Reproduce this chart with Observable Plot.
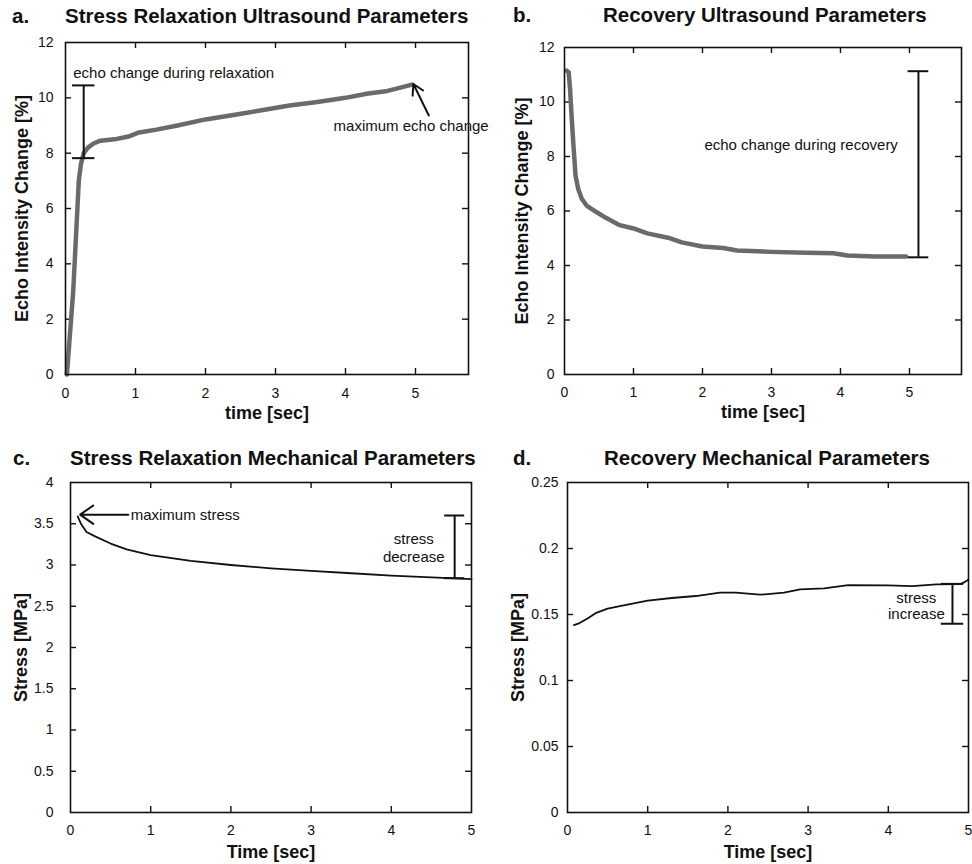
<!DOCTYPE html>
<html><head><meta charset="utf-8">
<script src="https://cdn.jsdelivr.net/npm/d3@7"></script>
<script src="https://cdn.jsdelivr.net/npm/@observablehq/plot@0.6"></script>
<style>
body{margin:0;background:#fff;font-family:"Liberation Sans",Arial,sans-serif;}
#wrap{position:relative;width:972px;height:864px;overflow:hidden;background:#fff}
.panel{position:absolute}
.ttl{position:absolute;font-weight:bold;font-size:20.5px;line-height:1;white-space:nowrap;color:#111}
</style></head><body><div id="wrap"></div><script>
// ---- data ----
const aTime = [0.02,0.05,0.08,0.11,0.13,0.15,0.17,0.19,0.22,0.26,0.32,0.4,0.5,0.7,0.9,1.05,1.3,1.6,2.0,2.4,2.8,3.2,3.6,4.0,4.3,4.6,4.8,4.95];
const aEcho = [0,1,2,3,4,5,6,7,7.6,8.0,8.2,8.35,8.45,8.5,8.6,8.75,8.85,9.0,9.22,9.38,9.55,9.72,9.85,10.0,10.15,10.25,10.38,10.48];
const bTime = [0.03,0.06,0.08,0.1,0.13,0.16,0.2,0.25,0.32,0.45,0.6,0.8,1.0,1.2,1.5,1.7,2.0,2.3,2.5,3.0,3.5,3.9,4.1,4.5,4.95];
const bEcho = [11.15,11.1,10.5,9.6,8.4,7.3,6.8,6.45,6.2,5.98,5.75,5.48,5.36,5.18,5.02,4.85,4.7,4.64,4.55,4.5,4.47,4.45,4.37,4.33,4.33];
const cTime = [0.09,0.13,0.2,0.3,0.5,0.7,1.0,1.5,2.0,2.5,3.0,3.5,4.0,4.5,5.0];
const cStress = [3.59,3.5,3.4,3.35,3.26,3.19,3.12,3.05,3.0,2.96,2.93,2.9,2.87,2.85,2.83];
const dTime = [0.08,0.15,0.25,0.35,0.5,0.7,1.0,1.3,1.6,1.9,2.1,2.4,2.7,2.9,3.2,3.5,4.0,4.3,4.6,4.9,4.95,5.0];
const dStress = [0.142,0.1435,0.147,0.151,0.1545,0.157,0.1605,0.1625,0.164,0.1665,0.1665,0.165,0.1665,0.169,0.1698,0.1722,0.172,0.1715,0.1728,0.173,0.1745,0.1765];

const ultraTicksX = [0,1,2,3,4,5];
const ultraTicksY = [0,2,4,6,8,10,12];
const mechTicksX = [0,1,2,3,4,5];
const relaxTicksY = [0,0.5,1,1.5,2,2.5,3,3.5,4];
const recovTicksY = [0,0.05,0.1,0.15,0.2,0.25];

// annotations: [x, low, high, capHalf]
const aBracket = [0.26, 7.82, 10.45, 0.16];
const bBracket = [5.13, 4.3, 11.13, 0.15];
const cBracket = [4.79, 2.84, 3.6, 0.125];
const dBracket = [4.8, 0.143, 0.1732, 0.14];
const aArrow = [5.19, 9.36, 4.97, 10.5];
const cArrow = [0.72, 3.61, 0.12, 3.61];
const aNotes = [{x:0.11, y:10.93, t:"echo change during relaxation", a:"start"},{x:3.83, y:9.0, t:"maximum echo change", a:"start"}];
const bNotes = [{x:3.43, y:8.44, t:"echo change during recovery", a:"middle"}];
const cNotes = [{x:0.75, y:3.61, t:"maximum stress", a:"start"},{x:4.28, y:3.21, t:"stress\ndecrease", a:"middle"}];
const dNotes = [{x:4.35, y:0.1568, t:"stress\nincrease", a:"middle"}];

const titles = [
  {lab:"a.", lx:12, x:65, top:6, t:"Stress Relaxation Ultrasound Parameters"},
  {lab:"b.", lx:513, x:603, top:5, t:"Recovery Ultrasound Parameters"},
  {lab:"c.", lx:13, x:70, top:448, t:"Stress Relaxation Mechanical Parameters"},
  {lab:"d.", lx:513, x:604, top:448, t:"Recovery Mechanical Parameters"}
];

function bracketMarks(b) {
  const [x, lo, hi, h] = b;
  return [
    Plot.ruleX([{x, y1: lo, y2: hi}], {x:"x", y1:"y1", y2:"y2", stroke:"#111", strokeWidth:2}),
    Plot.ruleY([{y: lo}, {y: hi}], {y:"y", x1: x - h, x2: x + h, stroke:"#111", strokeWidth:2})
  ];
}
function noteMarks(notes, lh) {
  return notes.map(n => Plot.text([n], {x:"x", y:"y", text:"t", textAnchor:n.a, fontSize:15, fill:"#111", lineHeight: lh}));
}
function arrowMark(a, len, ang) {
  return Plot.arrow([{x1:a[0], y1:a[1], x2:a[2], y2:a[3]}], {x1:"x1", y1:"y1", x2:"x2", y2:"y2", stroke:"#111", strokeWidth:2, headLength:len, headAngle:ang});
}

const fmt = d => String(d);

function panel(c) {
  const W = c.width - c.ml - c.mr, H = c.height - c.mt - c.mb, tk = 6;
  const pts = c.xs.map((t, i) => ({t, v: c.ys[i]}));
  const p = Plot.plot({
    width: c.width, height: c.height,
    marginLeft: c.ml, marginRight: c.mr, marginTop: c.mt, marginBottom: c.mb,
    style: {fontFamily: '"Liberation Sans", Arial, sans-serif', fontSize: "14px", color: "#111", background: "transparent", overflow: "visible"},
    x: {domain: c.xDomain},
    y: {domain: c.yDomain},
    marks: [
      Plot.axisX({ticks: c.xTicks, tickFormat: fmt, tickSize: 0, tickPadding: c.xpad, label: null, fontSize: 14}),
      Plot.axisY({ticks: c.yTicks, tickFormat: fmt, tickSize: 0, tickPadding: c.ypad, label: null, fontSize: 14}),
      Plot.tickY(c.yInner, {y: d => d, insetRight: W - tk, stroke: "#111", strokeWidth: 1.4}),
      Plot.tickY(c.yInner, {y: d => d, insetLeft: W - tk, stroke: "#111", strokeWidth: 1.4}),
      Plot.tickX(c.xInner, {x: d => d, insetTop: H - tk, stroke: "#111", strokeWidth: 1.4}),
      Plot.tickX(c.xInner, {x: d => d, insetBottom: H - tk, stroke: "#111", strokeWidth: 1.4}),
      Plot.line(pts, {x: "t", y: "v", stroke: c.color, strokeWidth: c.lw}),
      ...c.extra,
      Plot.frame({stroke: "#111", strokeWidth: 1.6}),
      Plot.text([c.yLabel], {text: d => d, frameAnchor: "left", textAnchor: "middle", lineAnchor: "middle", rotate: -90, dx: -c.ylab, fontWeight: "bold", fontSize: 18, fill: "#111"}),
      Plot.text([c.xLabel], {text: d => d, frameAnchor: "bottom", textAnchor: "middle", lineAnchor: "middle", dy: c.xlab, fontWeight: "bold", fontSize: 18, fill: "#111"})
    ]
  });
  p.classList.add("panel");
  p.style.left = c.left + "px";
  p.style.top = c.top + "px";
  return p;
}

const wrap = document.getElementById("wrap");
wrap.appendChild(panel({
  left: 0, top: 0, width: 486, height: 432, ml: 65, mr: 18, mt: 42, mb: 58,
  xDomain: [0, 5.757], yDomain: [0, 12], xTicks: ultraTicksX, yTicks: ultraTicksY,
  xInner: [1,2,3,4,5], yInner: [2,4,6,8,10], xpad: 14, ypad: 12,
  xs: aTime, ys: aEcho, color: "#6a6a6a", lw: 4.5,
  yLabel: "Echo Intensity Change [%]", xLabel: "time [sec]", ylab: 43, xlab: 39,
  extra: [...bracketMarks(aBracket), ...noteMarks(aNotes, 1.2), arrowMark(aArrow, 13, 60)]
}));
wrap.appendChild(panel({
  left: 486, top: 0, width: 486, height: 432, ml: 78, mr: 11, mt: 47, mb: 58,
  xDomain: [0, 5.754], yDomain: [0, 12], xTicks: ultraTicksX, yTicks: ultraTicksY,
  xInner: [1,2,3,4,5], yInner: [2,4,6,8,10], xpad: 13, ypad: 10,
  xs: bTime, ys: bEcho, color: "#6a6a6a", lw: 4.5,
  yLabel: "Echo Intensity Change [%]", xLabel: "time [sec]", ylab: 42, xlab: 38,
  extra: [...bracketMarks(bBracket), ...noteMarks(bNotes, 1.2)]
}));
wrap.appendChild(panel({
  left: 0, top: 432, width: 486, height: 432, ml: 70, mr: 15, mt: 50, mb: 52,
  xDomain: [0, 5], yDomain: [0, 4], xTicks: mechTicksX, yTicks: relaxTicksY,
  xInner: [1,2,3,4], yInner: [0.5,1,1.5,2,2.5,3,3.5], xpad: 13, ypad: 17,
  xs: cTime, ys: cStress, color: "#111", lw: 1.8,
  yLabel: "Stress [MPa]", xLabel: "Time [sec]", ylab: 49, xlab: 40,
  extra: [...bracketMarks(cBracket), ...noteMarks(cNotes, 1.2), arrowMark(cArrow, 14, 70)]
}));
wrap.appendChild(panel({
  left: 486, top: 432, width: 486, height: 432, ml: 81, mr: 4, mt: 50, mb: 52,
  xDomain: [0, 5], yDomain: [0, 0.25], xTicks: mechTicksX, yTicks: recovTicksY,
  xInner: [1,2,3,4], yInner: [0.05,0.1,0.15,0.2], xpad: 13, ypad: 9,
  xs: dTime, ys: dStress, color: "#111", lw: 1.8,
  yLabel: "Stress [MPa]", xLabel: "Time [sec]", ylab: 49, xlab: 40,
  extra: [...bracketMarks(dBracket), ...noteMarks(dNotes, 1.1)]
}));

for (const t of titles) {
  const l = document.createElement("div");
  l.className = "ttl"; l.textContent = t.lab;
  l.style.left = t.lx + "px"; l.style.top = t.top + "px";
  wrap.appendChild(l);
  const d = document.createElement("div");
  d.className = "ttl"; d.textContent = t.t;
  d.style.left = t.x + "px"; d.style.top = t.top + "px";
  wrap.appendChild(d);
}
</script></body></html>
